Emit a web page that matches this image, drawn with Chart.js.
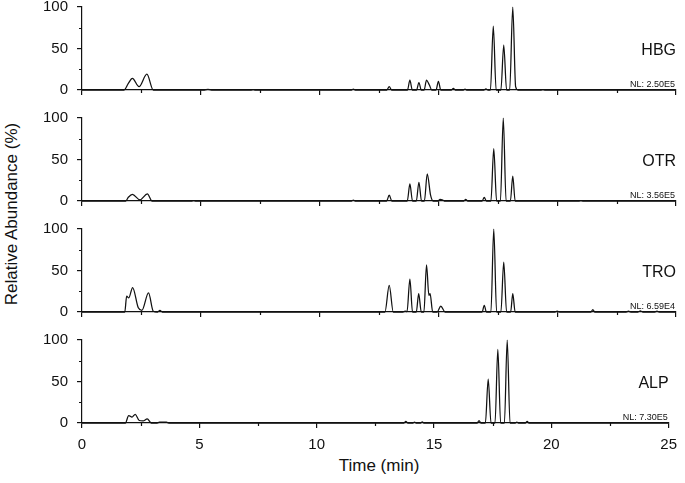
<!DOCTYPE html>
<html lang="en">
<head>
<meta charset="UTF-8">
<title>Chromatograms</title>
<style>
  body { margin: 0; background: #fff; }
  #wrap { position: relative; width: 685px; height: 483px; font-family: "Liberation Sans", Arial, sans-serif; color: #111; }
  #wrap canvas { position: absolute; left: 0; }
  .ytitle { position: absolute; left: 12px; top: 214px; transform: translate(-50%, -50%) rotate(-90deg); font-size: 17px; white-space: nowrap; }
  .xtitle { position: absolute; left: 379px; top: 466px; transform: translate(-50%, -50%); font-size: 17px; white-space: nowrap; }
</style>
<script src="https://cdn.jsdelivr.net/npm/chart.js"></script>
</head>
<body>
<div id="wrap">
  <div class="ytitle">Relative Abundance (%)</div>
  <div class="xtitle">Time (min)</div>
</div>

<script>
// time (min), relative abundance (%)
var hbg = [
  [0,0],[1.77,0],[1.95,8],[2.12,14],[2.4,4],[2.73,19],[3.0,0],
  [5.15,0],[5.3,0.8],[5.45,0],[7.1,0],[7.2,0.5],[7.3,0],
  [11.34,0],[11.42,1],[11.5,0],
  [12.83,0],[12.93,4],[13.03,0],
  [13.7,0],[13.8,12],[13.9,0],
  [14.08,0],[14.18,9],[14.28,0],
  [14.4,0],[14.5,12],[14.62,6],[14.72,0],
  [14.9,0],[15.0,10.5],[15.1,0],
  [15.55,0],[15.63,2],[15.71,0],
  [16.05,0],[16.12,1],[16.19,0],
  [16.92,0],[17.0,1.5],[17.08,0],
  [17.19,0],[17.31,77],[17.43,0],
  [17.63,0],[17.75,54],[17.87,0],
  [18.0,0],[18.13,100],[18.25,4],[18.35,0],
  [19.3,0],[19.4,0.5],[19.5,0],
  [25,0]
];
var otr = [
  [0,0],[1.84,0],[1.95,4.5],[2.12,8],[2.44,1.5],[2.75,8.5],[2.95,0],
  [4.6,0],[4.7,0.5],[4.8,0],
  [11.34,0],[11.42,1],[11.5,0],
  [12.82,0],[12.93,7],[13.04,0],
  [13.69,0],[13.8,20.5],[13.91,0],
  [14.07,0],[14.18,22.5],[14.29,0],
  [14.41,0],[14.53,32.7],[14.67,7],[14.78,0],
  [14.98,0],[15.07,2],[15.16,1.5],[15.25,0],
  [16.07,0],[16.15,2],[16.23,0],
  [16.84,0],[16.93,4.5],[17.02,0],
  [17.21,0],[17.33,63],[17.45,0],
  [17.61,0],[17.73,100],[17.85,0],
  [18.03,0],[18.13,30],[18.23,0],
  [20.9,0],[21.0,0.5],[21.1,0],
  [25,0]
];
var tro = [
  [0,0],[1.8,0],[1.88,19],[1.97,17],[2.13,29.5],[2.37,5],[2.52,2],[2.8,23],[3.0,1],[3.18,0],[3.28,2],[3.38,0],
  [12.75,0],[12.93,32],[13.1,0],
  [13.5,0],[13.6,1],[13.68,0.5],[13.8,39.7],[13.91,0],
  [14.07,0],[14.17,22],[14.28,0],
  [14.39,0],[14.5,56.7],[14.6,20],[14.65,22],[14.76,0],
  [14.95,0],[15.1,7],[15.28,0],
  [16.84,0],[16.93,8],[17.02,0],
  [17.21,0],[17.33,100],[17.45,0],
  [17.63,0],[17.75,60],[17.87,0],
  [18.04,0],[18.13,22],[18.23,0],
  [19.9,0],[20.0,1],[20.1,0],
  [21.42,0],[21.5,3],[21.58,0],
  [22.9,0],[23.0,1],[23.1,0],[23.4,0],[23.5,1.5],[23.6,0],[24.1,0],[24.2,1],[24.3,0],
  [25,0]
];
var alp = [
  [0,0],[1.85,0],[1.99,9],[2.13,7],[2.27,10.5],[2.44,3],[2.6,2.5],[2.78,5],[2.95,0],
  [3.2,0],[3.3,1],[3.6,1],[3.7,0],
  [13.72,0],[13.8,2],[13.88,0],
  [14.1,0],[14.17,1],[14.24,0],
  [14.43,0],[14.5,1.5],[14.57,0],
  [16.84,0],[16.92,3],[17.0,0],
  [17.19,0],[17.31,53],[17.43,0],
  [17.6,0],[17.72,88.7],[17.84,0],
  [18.0,0],[18.12,100],[18.24,0],
  [18.46,0],[18.53,1],[18.6,0],
  [18.9,0],[18.97,2],[19.04,0],
  [25,0]
];

var sampleNames = ['HBG', 'OTR', 'TRO', 'ALP'];
var nlLabels = ['NL: 2.50E5', 'NL: 3.56E5', 'NL: 6.59E4', 'NL: 7.30E5'];
var traces = [hbg, otr, tro, alp];
var xMinor = [2.5, 7.5, 12.5, 17.5, 22.5];
var yMinor = [25, 75];

var ink = '#111';
var fontFam = '"Liberation Sans", Arial, sans-serif';
Chart.defaults.font.family = fontFam;

// minor ticks, sample name and NL text
var decorPlugin = {
  id: 'decor',
  afterDraw: function(chart) {
    var ctx = chart.ctx, a = chart.chartArea;
    var x = chart.scales.x, y = chart.scales.y;
    var o = chart.options.plugins.decor;
    ctx.save();
    ctx.strokeStyle = ink;
    ctx.lineWidth = 1.2;
    ctx.beginPath();
    xMinor.forEach(function(v) {
      var px = Math.round(x.getPixelForValue(v)) + 0.5;
      ctx.moveTo(px, a.bottom);
      ctx.lineTo(px, a.bottom + 3);
    });
    yMinor.forEach(function(v) {
      var py = Math.round(y.getPixelForValue(v)) + 0.5;
      ctx.moveTo(a.left, py);
      ctx.lineTo(a.left - 3, py);
    });
    ctx.stroke();
    ctx.fillStyle = ink;
    ctx.textAlign = 'right';
    ctx.textBaseline = 'middle';
    ctx.font = '16px ' + fontFam;
    ctx.fillText(o.name, a.right, y.getPixelForValue(48));
    ctx.textBaseline = 'alphabetic';
    ctx.font = '9px ' + fontFam;
    ctx.fillText(o.nl, a.right - 1, a.bottom - 3);
    ctx.restore();
  }
};

var wrap = document.getElementById('wrap');
var areaH = 83;

function chartConfig(idx) {
  var last = (idx === 3);
  return {
    type: 'line',
    data: {
      datasets: [{
        data: traces[idx].map(function(p) { return { x: p[0], y: p[1] }; }),
        borderColor: ink,
        borderWidth: 1.25,
        pointRadius: 0,
        fill: false,
        cubicInterpolationMode: 'monotone',
        clip: false
      }]
    },
    options: {
      responsive: false,
      animation: false,
      layout: { padding: { top: 0, right: 9, left: 0, bottom: 0 } },
      plugins: {
        legend: { display: false },
        tooltip: { enabled: false },
        decor: { name: sampleNames[idx], nl: nlLabels[idx] }
      },
      scales: {
        x: {
          type: 'linear', min: 0, max: 25,
          afterFit: function(s) { s.height = last ? 60 : 8; },
          ticks: { display: last, stepSize: 5, color: ink, font: { size: 15 }, padding: 8, maxRotation: 0 },
          grid: { drawOnChartArea: false, tickLength: 5, color: ink, lineWidth: 1.2 },
          border: { color: ink, width: 1.2 }
        },
        y: {
          min: 0, max: 100,
          afterFit: function(s) { s.width = 82; },
          ticks: { stepSize: 50, color: ink, font: { size: 15 }, padding: 9 },
          grid: { drawOnChartArea: false, tickLength: 5, color: ink, lineWidth: 1.2 },
          border: { color: ink, width: 1.2 }
        }
      }
    },
    plugins: [decorPlugin]
  };
}

function makePanel(idx) {
  var areaTop = 7 + 111 * idx;
  var cv = document.createElement('canvas');
  wrap.appendChild(cv);
  var h = 120;
  cv.width = 685;
  cv.height = h;
  var ch = new Chart(cv.getContext('2d'), chartConfig(idx));
  // size the canvas so the plot area is exactly areaH tall
  var extra = h - (ch.chartArea.bottom - ch.chartArea.top);
  ch.destroy();
  cv.width = 685;
  cv.height = areaH + extra;
  ch = new Chart(cv.getContext('2d'), chartConfig(idx));
  cv.style.top = (areaTop - ch.chartArea.top) + 'px';
}

for (var i = 0; i < 4; i++) makePanel(i);
</script>
</body>
</html>
